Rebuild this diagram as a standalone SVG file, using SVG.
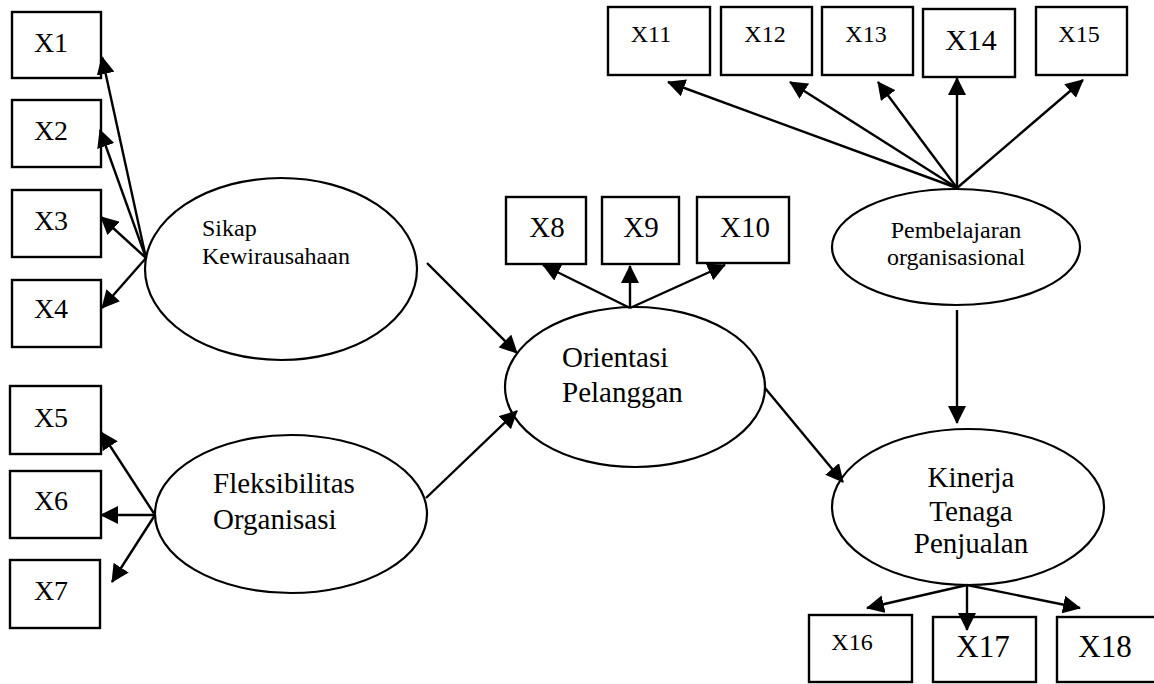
<svg xmlns="http://www.w3.org/2000/svg" width="1154" height="684" viewBox="0 0 1154 684">
<defs>
<marker id="ah" markerUnits="userSpaceOnUse" viewBox="0 0 18 18" refX="17" refY="9" markerWidth="18" markerHeight="18" orient="auto">
<path d="M0,0 L18,9 L0,18 z" fill="#000"/>
</marker>
</defs>
<style>
.box{fill:#fff;stroke:#000;stroke-width:2.4}
.ell{fill:#fff;stroke:#000;stroke-width:2.2}
.t{font-family:"Liberation Serif","Times New Roman",serif;fill:#000}
.c{text-anchor:middle}
.edge{stroke:#000;stroke-width:2.4;fill:none;marker-end:url(#ah)}
</style>
<rect width="1154" height="684" fill="#fff"/>

<g id="X1"><rect class="box" x="12" y="12" width="89" height="66"/><text class="t c" x="51" y="52" font-size="28">X1</text></g>
<g id="X2"><rect class="box" x="12" y="100" width="89" height="67"/><text class="t c" x="51" y="140" font-size="28">X2</text></g>
<g id="X3"><rect class="box" x="12" y="190" width="89" height="67"/><text class="t c" x="51" y="230" font-size="28">X3</text></g>
<g id="X4"><rect class="box" x="12" y="280" width="89" height="67"/><text class="t c" x="51" y="318" font-size="28">X4</text></g>
<g id="X5"><rect class="box" x="10" y="386" width="91" height="68"/><text class="t c" x="51" y="427" font-size="28">X5</text></g>
<g id="X6"><rect class="box" x="10" y="471" width="91" height="67"/><text class="t c" x="51" y="510" font-size="28">X6</text></g>
<g id="X7"><rect class="box" x="10" y="560" width="90" height="68"/><text class="t c" x="51" y="600" font-size="28">X7</text></g>
<g id="X8"><rect class="box" x="506" y="197" width="80" height="67"/><text class="t c" x="547" y="237" font-size="29">X8</text></g>
<g id="X9"><rect class="box" x="602" y="197" width="77" height="67"/><text class="t c" x="641" y="237" font-size="29">X9</text></g>
<g id="X10"><rect class="box" x="697" y="197" width="92" height="66"/><text class="t c" x="745" y="237" font-size="29">X10</text></g>
<g id="X11"><rect class="box" x="608" y="7" width="102" height="68"/><text class="t c" x="651" y="42" font-size="24">X11</text></g>
<g id="X12"><rect class="box" x="721" y="7" width="91" height="68"/><text class="t c" x="765" y="42" font-size="24">X12</text></g>
<g id="X13"><rect class="box" x="822" y="7" width="91" height="68"/><text class="t c" x="866" y="42" font-size="24">X13</text></g>
<g id="X14"><rect class="box" x="923" y="9" width="92" height="68"/><text class="t c" x="971" y="50" font-size="30">X14</text></g>
<g id="X15"><rect class="box" x="1036" y="7" width="91" height="68"/><text class="t c" x="1079" y="42" font-size="24">X15</text></g>
<g id="X16"><rect class="box" x="809" y="615" width="103" height="67"/><text class="t c" x="852" y="650" font-size="24">X16</text></g>
<g id="X17"><rect class="box" x="933" y="617" width="103" height="65"/><text class="t c" x="983" y="657" font-size="31">X17</text></g>
<g id="X18"><rect class="box" x="1057" y="617" width="110" height="65"/><text class="t c" x="1105" y="657" font-size="31">X18</text></g>

<g id="sikap"><ellipse class="ell" cx="281" cy="269" rx="136" ry="91"/><text class="t" x="202" y="236" font-size="24">Sikap</text><text class="t" x="202" y="264" font-size="24">Kewirausahaan</text></g>
<g id="fleksibilitas"><ellipse class="ell" cx="291" cy="514" rx="136" ry="79"/><text class="t" x="213" y="493" font-size="29">Fleksibilitas</text><text class="t" x="213" y="529" font-size="29">Organisasi</text></g>
<g id="orientasi"><ellipse class="ell" cx="635" cy="387" rx="130" ry="80"/><text class="t" x="562" y="367" font-size="29">Orientasi</text><text class="t" x="562" y="402" font-size="29">Pelanggan</text></g>
<g id="pembelajaran"><ellipse class="ell" cx="956" cy="247" rx="124" ry="58"/><text class="t c" x="956" y="238" font-size="24">Pembelajaran</text><text class="t c" x="956" y="265" font-size="24">organisasional</text></g>
<g id="kinerja"><ellipse class="ell" cx="968" cy="507" rx="136" ry="78"/><text class="t c" x="971" y="487" font-size="29">Kinerja</text><text class="t c" x="971" y="521" font-size="29">Tenaga</text><text class="t c" x="971" y="553" font-size="29">Penjualan</text></g>

<g id="connectors">
<line class="edge" x1="146" y1="258" x2="102" y2="57"/>
<line class="edge" x1="146" y1="258" x2="100" y2="130"/>
<line class="edge" x1="146" y1="258" x2="101" y2="217"/>
<line class="edge" x1="146" y1="258" x2="102" y2="308"/>
<line class="edge" x1="155" y1="515" x2="101" y2="432"/>
<line class="edge" x1="155" y1="515" x2="101" y2="515"/>
<line class="edge" x1="155" y1="515" x2="112" y2="582"/>
<line class="edge" x1="630" y1="308" x2="543" y2="265"/>
<line class="edge" x1="630" y1="308" x2="630" y2="266"/>
<line class="edge" x1="630" y1="308" x2="725" y2="265"/>
<line class="edge" x1="427" y1="263" x2="517" y2="353"/>
<line class="edge" x1="426" y1="498" x2="517" y2="411"/>
<line class="edge" x1="765" y1="388" x2="843" y2="482"/>
<line class="edge" x1="957" y1="310" x2="957" y2="423"/>
<line class="edge" x1="957" y1="188" x2="668" y2="82"/>
<line class="edge" x1="957" y1="188" x2="790" y2="82"/>
<line class="edge" x1="957" y1="188" x2="878" y2="82"/>
<line class="edge" x1="957" y1="188" x2="957" y2="78"/>
<line class="edge" x1="957" y1="188" x2="1083" y2="80"/>
<line class="edge" x1="967" y1="585" x2="867" y2="608"/>
<line class="edge" x1="967" y1="585" x2="967" y2="630"/>
<line class="edge" x1="967" y1="585" x2="1080" y2="608"/>
</g>
</svg>
